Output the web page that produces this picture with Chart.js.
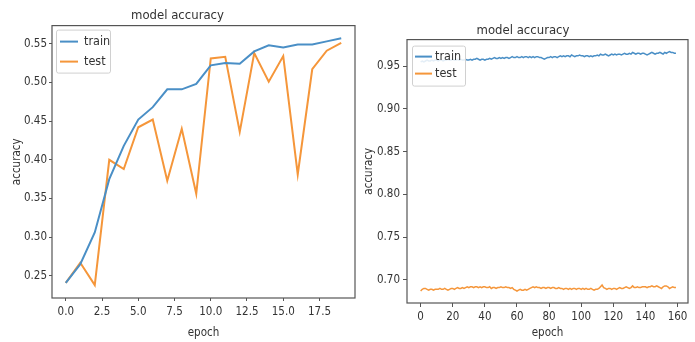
<!DOCTYPE html>
<html>
<head>
<meta charset="utf-8">
<script src="https://cdn.jsdelivr.net/npm/chart.js@4/dist/chart.umd.min.js"></script>
<style>
  html, body { margin: 0; padding: 0; background: #fff; }
  #wrap { position: relative; width: 695px; height: 342px; overflow: hidden; }
  .c { position: absolute; top: 0; }
</style>
</head>
<body>
<div id="wrap">
  <div class="c" style="left:0;width:365px;height:342px"><canvas id="left"></canvas></div>
  <div class="c" style="left:358px;width:337px;height:342px"><canvas id="right"></canvas></div>
</div>
<script>
// ---------- Data ----------
const titleText = "model accuracy";
const xLabel = "epoch";
const yLabel = "accuracy";
const seriesNames = ["train", "test"];

// Left chart: 20 epochs
const leftEpochs = [0,1,2,3,4,5,6,7,8,9,10,11,12,13,14,15,16,17,18,19];
const leftTrain = [0.241,0.265,0.306,0.375,0.418,0.452,0.468,0.491,0.491,0.498,0.522,0.525,0.524,0.540,0.548,0.545,0.549,0.549,0.553,0.557];
const leftTest  = [0.241,0.267,0.238,0.400,0.388,0.442,0.452,0.373,0.440,0.356,0.531,0.533,0.436,0.538,0.501,0.534,0.381,0.517,0.541,0.551];
const leftXTicks = [0,2.5,5,7.5,10,12.5,15,17.5];
const leftYTicks = [0.25,0.30,0.35,0.40,0.45,0.50,0.55];

// Right chart: 160 epochs
const rightTrain = [
0.955,0.956,0.955,0.956,0.957,0.956,0.956,0.957,0.956,0.957,
0.957,0.956,0.957,0.957,0.956,0.957,0.957,0.958,0.957,0.957,
0.958,0.957,0.957,0.958,0.957,0.958,0.957,0.957,0.958,0.957,
0.957,0.958,0.957,0.958,0.958,0.959,0.958,0.957,0.958,0.958,
0.957,0.958,0.958,0.959,0.958,0.959,0.960,0.959,0.959,0.960,
0.959,0.960,0.959,0.960,0.960,0.959,0.960,0.961,0.960,0.960,
0.961,0.960,0.960,0.961,0.960,0.961,0.961,0.960,0.961,0.960,
0.961,0.960,0.961,0.961,0.960,0.960,0.959,0.958,0.959,0.960,
0.960,0.961,0.960,0.961,0.961,0.960,0.961,0.962,0.961,0.962,
0.961,0.962,0.962,0.961,0.963,0.962,0.961,0.962,0.962,0.963,
0.962,0.962,0.961,0.962,0.962,0.961,0.962,0.961,0.962,0.962,
0.963,0.962,0.964,0.963,0.963,0.964,0.963,0.962,0.963,0.964,
0.963,0.964,0.963,0.964,0.964,0.963,0.964,0.965,0.964,0.964,
0.965,0.964,0.966,0.965,0.964,0.965,0.965,0.964,0.965,0.965,
0.964,0.963,0.964,0.965,0.966,0.965,0.964,0.965,0.965,0.966,
0.965,0.964,0.966,0.965,0.966,0.967,0.966,0.966,0.965,0.965];
const rightTest = [
0.687,0.689,0.690,0.690,0.689,0.688,0.689,0.689,0.688,0.689,
0.689,0.689,0.690,0.689,0.689,0.690,0.689,0.688,0.689,0.690,
0.690,0.689,0.690,0.691,0.690,0.690,0.691,0.690,0.691,0.692,
0.691,0.692,0.692,0.691,0.692,0.692,0.691,0.692,0.691,0.692,
0.692,0.691,0.691,0.692,0.690,0.691,0.691,0.690,0.691,0.691,
0.692,0.691,0.691,0.692,0.691,0.691,0.690,0.691,0.689,0.688,
0.687,0.688,0.689,0.688,0.688,0.689,0.688,0.689,0.690,0.691,
0.692,0.691,0.692,0.691,0.691,0.690,0.691,0.691,0.690,0.691,
0.691,0.690,0.691,0.691,0.690,0.690,0.691,0.690,0.690,0.689,
0.690,0.690,0.689,0.690,0.689,0.690,0.690,0.689,0.690,0.690,
0.689,0.690,0.689,0.690,0.689,0.689,0.690,0.689,0.688,0.689,
0.689,0.690,0.692,0.694,0.691,0.690,0.689,0.690,0.690,0.689,
0.690,0.690,0.689,0.690,0.691,0.690,0.690,0.691,0.692,0.691,
0.690,0.691,0.693,0.691,0.691,0.692,0.691,0.691,0.692,0.692,
0.692,0.691,0.692,0.692,0.693,0.692,0.692,0.693,0.692,0.691,
0.690,0.692,0.693,0.693,0.692,0.690,0.691,0.692,0.691,0.691];
const rightXTicks = [0,20,40,60,80,100,120,140,160];
const rightYTicks = [0.70,0.75,0.80,0.85,0.90,0.95];

// ---------- Styling ----------
const FONT = "'DejaVu Sans Condensed', 'DejaVu Sans', sans-serif";
const TEXT = "#333";
const FRAME = "#555";
const BLUE = "#4a8fc6";
const ORANGE = "#f5963a";

const framePlugin = {
  id: 'frame',
  afterDatasetsDraw(chart) {
    const a = chart.chartArea, ctx = chart.ctx;
    ctx.save();
    ctx.strokeStyle = FRAME;
    ctx.lineWidth = 1.2;
    ctx.strokeRect(a.left, a.top, a.right - a.left, a.bottom - a.top);
    ctx.restore();
  }
};

const boxLegend = {
  id: 'boxLegend',
  afterDraw(chart, args, o) {
    const a = chart.chartArea, ctx = chart.ctx;
    const x = a.left + o.dx, y = a.top + o.dy;
    ctx.save();
    ctx.fillStyle = 'rgba(255,255,255,0.85)';
    ctx.strokeStyle = '#d0d0d0';
    ctx.lineWidth = 1;
    ctx.beginPath();
    ctx.roundRect(x + 0.5, y + 0.5, o.w, o.h, 2);
    ctx.fill();
    ctx.stroke();
    chart.data.datasets.forEach((ds, i) => {
      const cy = y + o.firstRow + i * o.rowH;
      ctx.strokeStyle = ds.borderColor;
      ctx.lineWidth = o.lw;
      ctx.beginPath();
      ctx.moveTo(x + o.lineX, cy);
      ctx.lineTo(x + o.lineX + o.lineLen, cy);
      ctx.stroke();
      ctx.fillStyle = TEXT;
      ctx.font = o.fontSize + "px " + FONT;
      ctx.textBaseline = 'middle';
      ctx.textAlign = 'left';
      ctx.fillText(ds.label, x + o.textX, cy);
    });
    ctx.restore();
  }
};

function makeChart(id, cfg) {
  const toPts = (xs, ys) => ys.map((v, i) => ({x: xs[i], y: v}));
  return new Chart(document.getElementById(id), {
    type: 'line',
    data: {
      datasets: [
        { label: seriesNames[0], data: toPts(cfg.xs, cfg.train), borderColor: BLUE, borderWidth: cfg.lw, pointRadius: 0, tension: 0, fill: false },
        { label: seriesNames[1], data: toPts(cfg.xs, cfg.test), borderColor: ORANGE, borderWidth: cfg.lw, pointRadius: 0, tension: 0, fill: false }
      ]
    },
    options: {
      responsive: true,
      maintainAspectRatio: false,
      animation: false,
      layout: { padding: cfg.padding },
      plugins: {
        legend: { display: false },
        tooltip: { enabled: false },
        title: {
          display: true, text: titleText, color: TEXT,
          font: { family: FONT, size: 13, weight: 'normal' },
          padding: cfg.titlePad
        },
        boxLegend: cfg.legend
      },
      scales: {
        x: {
          type: 'linear', min: cfg.xMin, max: cfg.xMax,
          afterBuildTicks: s => { s.ticks = cfg.xTicks.map(v => ({value: v})); },
          afterFit: s => { s.height = cfg.xAxisH; },
          grid: { display: true, drawOnChartArea: false, tickLength: cfg.tickLen, color: FRAME },
          border: { display: false },
          ticks: { color: TEXT, font: { family: FONT, size: 11.5 }, padding: cfg.xTickPad, maxRotation: 0,
                   callback: v => cfg.xFmt(v) },
          title: { display: true, text: xLabel, color: TEXT, font: { family: FONT, size: 11.5 }, padding: cfg.xTitlePad }
        },
        y: {
          type: 'linear', min: cfg.yMin, max: cfg.yMax,
          afterBuildTicks: s => { s.ticks = cfg.yTicks.map(v => ({value: v})); },
          afterFit: s => { s.width = cfg.yAxisW; },
          grid: { display: true, drawOnChartArea: false, tickLength: cfg.tickLen, color: FRAME },
          border: { display: false },
          ticks: { color: TEXT, font: { family: FONT, size: 11.5 }, padding: cfg.yTickPad,
                   callback: v => v.toFixed(2) },
          title: { display: true, text: yLabel, color: TEXT, font: { family: FONT, size: 11.5 }, padding: cfg.yTitlePad }
        }
      }
    },
    plugins: [framePlugin, boxLegend]
  });
}

makeChart('left', {
  xs: leftEpochs, train: leftTrain, test: leftTest, lw: 2,
  xMin: -0.95, xMax: 19.95, yMin: 0.2214, yMax: 0.5734,
  xTicks: leftXTicks, yTicks: leftYTicks,
  xFmt: v => v.toFixed(1),
  padding: { left: 0, right: 10, top: 0, bottom: 0 },
  titlePad: { top: 8, bottom: 2 },
  xAxisH: 44, yAxisW: 52, tickLen: 3,
  xTickPad: 4, yTickPad: 2,
  xTitlePad: { top: 0, bottom: 2 }, yTitlePad: { top: 10, bottom: 0 },
  legend: { dx: 4, dy: 4, w: 54, h: 43, firstRow: 12, rowH: 20, lineX: 4, lineLen: 18, textX: 28, lw: 2, fontSize: 12.5 }
});

const rightEpochs = rightTrain.map((_, i) => i);
makeChart('right', {
  xs: rightEpochs, train: rightTrain, test: rightTest, lw: 1.5,
  xMin: -8.5, xMax: 166.5, yMin: 0.673, yMax: 0.981,
  xTicks: rightXTicks, yTicks: rightYTicks,
  xFmt: v => String(v),
  padding: { left: 0, right: 7, top: 18, bottom: 0 },
  titlePad: { top: 5, bottom: 1 },
  xAxisH: 39, yAxisW: 49, tickLen: 4,
  xTickPad: 3, yTickPad: 3,
  xTitlePad: { top: 0, bottom: 2 }, yTitlePad: { top: 4, bottom: 0 },
  legend: { dx: 5, dy: 6, w: 53, h: 40, firstRow: 11, rowH: 17, lineX: 3, lineLen: 17, textX: 23, lw: 2, fontSize: 12.5 }
});
</script>
</body>
</html>
